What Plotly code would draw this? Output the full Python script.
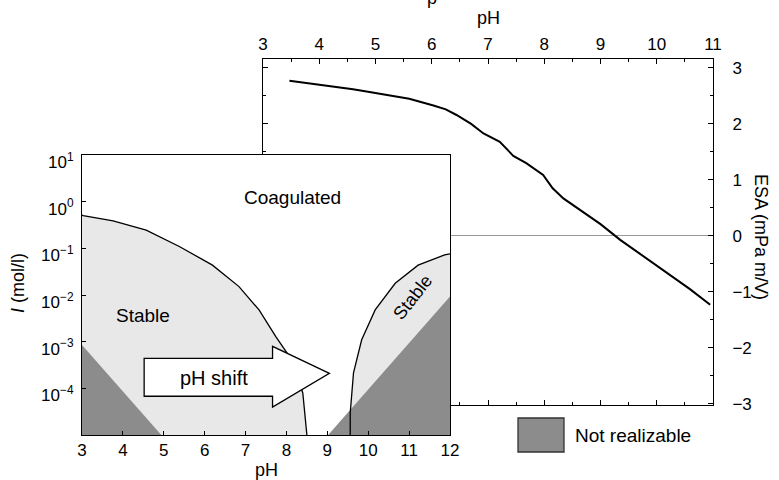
import plotly.graph_objects as go

W, H = 779, 480
FONT = "Liberation Sans"

# ---------------- ESA vs pH (back chart) ----------------
esa_ph = [3.47, 3.7, 3.95, 4.3, 4.6, 4.84, 5.26, 5.6, 6.03, 6.25, 6.44, 6.7, 6.92,
          7.21, 7.45, 7.68, 7.98, 8.15, 8.34, 8.69, 9.0, 9.35, 9.7, 10.0, 10.3, 10.59, 10.95]
esa_val = [2.77, 2.74, 2.71, 2.66, 2.62, 2.58, 2.51, 2.45, 2.33, 2.26, 2.16, 2.0, 1.83,
           1.68, 1.43, 1.30, 1.09, 0.85, 0.67, 0.43, 0.21, -0.07, -0.32, -0.53, -0.74, -0.95, -1.23]
esa_xticks = [3, 4, 5, 6, 7, 8, 9, 10, 11]
esa_yticks = [-3, -2, -1, 0, 1, 2, 3]

# ---------------- Stability map (inset) ----------------
left_stable_ph = [3.0, 3.03, 3.76, 4.57, 5.38, 6.19, 6.84, 7.33, 7.74, 8.02, 8.22, 8.40, 8.50]
left_stable_logI = [-0.29, -0.30, -0.41, -0.61, -0.96, -1.36, -1.82, -2.32, -2.89, -3.25, -3.65, -4.10, -5.0]
right_stable_ph = [9.56, 9.56, 9.64, 9.84, 10.17, 10.66, 11.22, 11.87, 12.0]
right_stable_logI = [-5.0, -4.53, -3.67, -2.96, -2.32, -1.75, -1.36, -1.14, -1.12]
left_dark_ph = [3.0, 3.0, 4.94]
left_dark_logI = [-5.0, -3.07, -5.0]
right_dark_ph = [9.02, 12.0, 12.0]
right_dark_logI = [-5.0, -2.03, -5.0]
map_xticks = [3, 4, 5, 6, 7, 8, 9, 10, 11, 12]
map_ydecades = [1, 0, -1, -2, -3, -4]

# arrow (pH shift) in map coordinates: pH and log10 I
arrow_ph = [4.52, 7.66, 7.66, 9.05, 7.66, 7.66, 4.52]
arrow_logI = [-3.36, -3.36, -3.10, -3.68, -4.40, -4.17, -4.17]

LIGHT = "#e8e8e8"
DARK = "#8c8c8c"

# layout geometry (paper fractions)
esa_dom_x = [263 / W, 713 / W]
esa_dom_y = [1 - 405 / H, 1 - 59 / H]
map_dom_x = [82 / W, 450 / W]
map_dom_y = [1 - 435 / H, 1 - 155 / H]
map_xrange = [3, 12]
map_yrange = [-5, 1]


def map_to_paper(ph, logI):
    px = map_dom_x[0] + (ph - map_xrange[0]) / (map_xrange[1] - map_xrange[0]) * (map_dom_x[1] - map_dom_x[0])
    py = map_dom_y[0] + (logI - map_yrange[0]) / (map_yrange[1] - map_yrange[0]) * (map_dom_y[1] - map_dom_y[0])
    return px, py


fig = go.Figure()

# ESA curve
fig.add_trace(go.Scatter(x=esa_ph, y=esa_val, mode="lines", xaxis="x", yaxis="y",
                         line=dict(color="black", width=2), showlegend=False, hoverinfo="skip"))

# inset white background
fig.add_trace(go.Scatter(x=[2, 13, 13, 2, 2], y=[1e-7, 1e-7, 100, 100, 1e-7], xaxis="x2", yaxis="y2",
                         mode="lines", fill="toself", fillcolor="white", line=dict(width=0),
                         showlegend=False, hoverinfo="skip"))


def poly(xs, logs, color):
    fig.add_trace(go.Scatter(x=xs, y=[10 ** v for v in logs], xaxis="x2", yaxis="y2",
                             mode="lines", fill="toself", fillcolor=color, line=dict(width=0),
                             showlegend=False, hoverinfo="skip"))


poly([3.0] + left_stable_ph + [3.0], [-5.0] + left_stable_logI + [-5.0], LIGHT)
poly(right_stable_ph + [12.0, 9.56], right_stable_logI + [-5.0, -5.0], LIGHT)
poly(left_dark_ph + [3.0], left_dark_logI + [-5.0], DARK)
poly(right_dark_ph + [9.02], right_dark_logI + [-5.0], DARK)

for xs, logs in [(left_stable_ph, left_stable_logI), (right_stable_ph, right_stable_logI)]:
    fig.add_trace(go.Scatter(x=xs, y=[10 ** v for v in logs], xaxis="x2", yaxis="y2",
                             mode="lines", line=dict(color="black", width=1.3),
                             showlegend=False, hoverinfo="skip"))

# arrow shape
apts = [map_to_paper(a, b) for a, b in zip(arrow_ph, arrow_logI)]
path = "M " + " L ".join(f"{p[0]:.5f},{p[1]:.5f}" for p in apts) + " Z"
fig.add_shape(type="path", path=path, xref="paper", yref="paper",
              fillcolor="white", line=dict(color="black", width=1.3), layer="above")

# legend box
fig.add_shape(type="rect", xref="paper", yref="paper",
              x0=518 / W, x1=564 / W, y0=1 - 452 / H, y1=1 - 418 / H,
              fillcolor=DARK, line=dict(color="#333333", width=1.3))

tickfont = dict(family=FONT, size=17, color="black")
axcommon = dict(showgrid=False, showline=True, linecolor="black", linewidth=1, automargin=False,
                ticks="inside", tickcolor="black", tickfont=tickfont)

map_ytext = [f"10<sup>{d}</sup>".replace("-", "\u2212") for d in map_ydecades]

fig.update_layout(
    width=W, height=H,
    margin=dict(l=0, r=0, t=0, b=0, pad=0, autoexpand=False),
    paper_bgcolor="white", plot_bgcolor="white",
    font=dict(family=FONT, size=18, color="black"),
    xaxis=dict(domain=esa_dom_x, range=[3, 11], side="top", anchor="y",
               tickvals=esa_xticks, ticklen=5, mirror="ticks", ticklabelstandoff=1,
               minor=dict(dtick=0.5, ticks="inside", ticklen=3, tickcolor="black"),
               zeroline=False, **axcommon),
    yaxis=dict(domain=esa_dom_y, range=[-3.02, 3.16], side="right", anchor="x",
               tickvals=esa_yticks, ticklen=5, mirror="ticks", ticklabelstandoff=15,
               minor=dict(dtick=0.5, ticks="inside", ticklen=3, tickcolor="black"),
               zeroline=True, zerolinecolor="#999999", zerolinewidth=1, **axcommon),
    xaxis2=dict(domain=map_dom_x, range=map_xrange, anchor="y2", ticklabelstandoff=0,
                tickvals=map_xticks, ticklen=4, mirror=True, zeroline=False, **axcommon),
    yaxis2=dict(domain=map_dom_y, range=map_yrange, type="log", anchor="x2",
                tickvals=[10 ** d for d in map_ydecades], ticktext=map_ytext,
                ticklabelstandoff=4, ticklabelshift=7,
                ticklen=4, mirror=True, zeroline=False, **axcommon),
    showlegend=False,
)

ann = []
# cut-off title fragment at the very top
ann.append(dict(text="p", x=432 / W, y=1 + 14 / H, xref="paper", yref="paper", showarrow=False,
                xanchor="center", yanchor="top", font=dict(size=18)))
# axis titles
ann.append(dict(text="pH", x=488 / W, y=1 - 18 / H, xref="paper", yref="paper", showarrow=False,
                xanchor="center", yanchor="middle", font=dict(size=18)))
ann.append(dict(text="ESA (mPa m/V)", x=761 / W, y=1 - 237 / H, xref="paper", yref="paper",
                xanchor="center", yanchor="middle",
                showarrow=False, textangle=90, font=dict(size=18)))
ann.append(dict(text="pH", x=266 / W, y=1 - 470 / H, xref="paper", yref="paper", showarrow=False,
                xanchor="center", yanchor="middle", font=dict(size=18)))
ann.append(dict(text="<i>I</i> (mol/l)", x=18 / W, y=1 - 283 / H, xref="paper", yref="paper",
                xanchor="center", yanchor="middle",
                showarrow=False, textangle=-90, font=dict(size=18)))
# region labels
ann.append(dict(text="Coagulated", x=8.16, y=0.08, xref="x2", yref="y2", showarrow=False,
                xanchor="center", yanchor="middle", font=dict(size=19)))
ann.append(dict(text="Stable", x=4.49, y=-2.43, xref="x2", yref="y2", showarrow=False,
                xanchor="center", yanchor="middle", font=dict(size=19)))
ann.append(dict(text="Stable", x=11.09, y=-2.04, xref="x2", yref="y2", showarrow=False,
                xanchor="center", yanchor="middle", textangle=-52, font=dict(size=18)))
ax_, ay_ = map_to_paper(6.22, -3.78)
ann.append(dict(text="pH shift", x=ax_, y=ay_, xref="paper", yref="paper", showarrow=False,
                xanchor="center", yanchor="middle", font=dict(size=20)))
ann.append(dict(text="Not realizable", x=573 / W, y=1 - 435 / H, xref="paper", yref="paper",
                xanchor="left", yanchor="middle", showarrow=False, font=dict(size=19)))
fig.update_layout(annotations=ann)

fig.write_html("out.html")
